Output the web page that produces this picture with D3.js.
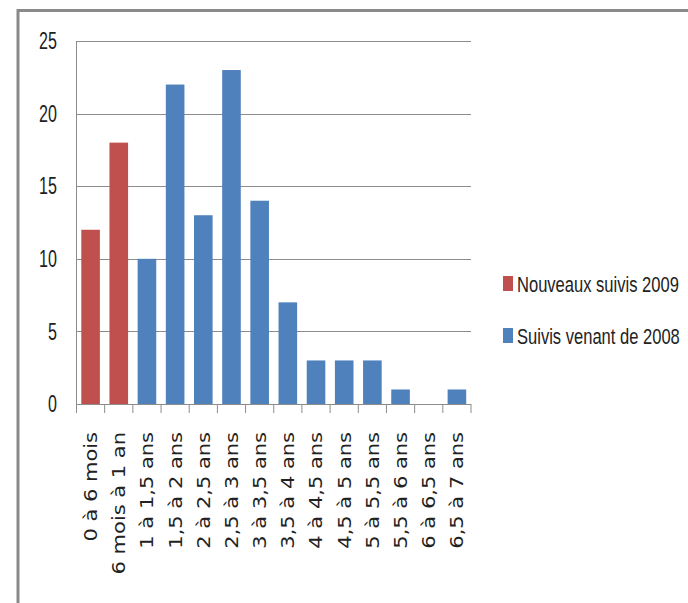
<!DOCTYPE html>
<html>
<head>
<meta charset="utf-8">
<script src="https://cdn.jsdelivr.net/npm/d3@7"></script>
<style>
  html, body { margin: 0; padding: 0; background: #fff; }
  svg { display: block; }
</style>
</head>
<body>
<svg id="chart" width="688" height="603"></svg>
<script>
// Age groups of children followed, and the number in each group
const categories = ["0 à 6 mois", "6 mois à 1 an", "1 à 1,5 ans", "1,5 à 2 ans", "2 à 2,5 ans",
  "2,5 à 3 ans", "3 à 3,5 ans", "3,5 à 4 ans", "4 à 4,5 ans", "4,5 à 5 ans",
  "5 à 5,5 ans", "5,5 à 6 ans", "6 à 6,5 ans", "6,5 à 7 ans"];
const nouveaux2009 = [12, 18, null, null, null, null, null, null, null, null, null, null, null, null];
const venant2008   = [null, null, 10, 22, 13, 23, 14, 7, 3, 3, 3, 1, 0, 1];
const yTicks = [0, 5, 10, 15, 20, 25];
const seriesNames = ["Nouveaux suivis 2009", "Suivis venant de 2008"];
const seriesColors = ["#C0504D", "#4F81BD"];

const svg = d3.select("#chart");
const plot = { left: 76.5, right: 471, top: 41, bottom: 404 };

// outer frame (top and left edges)
svg.append("path")
  .attr("d", `M18,603 V10.5 H688`)
  .attr("fill", "none").attr("stroke", "#8a8a8a").attr("stroke-width", 3);

const x = d3.scaleBand().domain(categories)
  .range([plot.left, plot.right]).paddingInner(0.34).paddingOuter(0.17);
const y = d3.scaleLinear().domain([0, 25]).range([plot.bottom, plot.top]);

// horizontal gridlines
svg.append("g").selectAll("line").data(yTicks.filter(d => d > 0)).join("line")
  .attr("x1", plot.left).attr("x2", plot.right)
  .attr("y1", d => Math.round(y(d)) + 0.5).attr("y2", d => Math.round(y(d)) + 0.5)
  .attr("stroke", "#8c8c8c").attr("stroke-width", 1);

// bars for both series, sharing one slot per age group
const series = [nouveaux2009, venant2008];
series.forEach((vals, si) => {
  svg.append("g").selectAll("rect")
    .data(categories.map((c, i) => ({ c, v: vals[i] })).filter(d => d.v != null && d.v > 0))
    .join("rect")
    .attr("x", d => x(d.c))
    .attr("width", x.bandwidth())
    .attr("y", d => y(d.v))
    .attr("height", d => y(0) - y(d.v))
    .attr("fill", seriesColors[si]);
});

// y axis line
svg.append("line")
  .attr("x1", plot.left).attr("x2", plot.left)
  .attr("y1", plot.top).attr("y2", plot.bottom)
  .attr("stroke", "#8c8c8c");

// x axis line and category ticks
const step = x.step();
svg.append("line")
  .attr("x1", plot.left).attr("x2", plot.right)
  .attr("y1", plot.bottom + 0.5).attr("y2", plot.bottom + 0.5)
  .attr("stroke", "#8c8c8c");
svg.append("g").selectAll("line").data(d3.range(categories.length + 1)).join("line")
  .attr("x1", i => plot.left + i * step).attr("x2", i => plot.left + i * step)
  .attr("y1", plot.bottom).attr("y2", plot.bottom + 9)
  .attr("stroke", "#8c8c8c");

// y tick labels
svg.append("g").selectAll("text").data(yTicks).join("text")
  .attr("transform", d => `translate(57,${y(d)}) scale(0.7,1)`)
  .attr("text-anchor", "end")
  .attr("dy", "0.36em")
  .attr("font-family", "Liberation Sans, Arial, sans-serif")
  .attr("font-size", 23)
  .attr("fill", "#222")
  .text(d => d);

// rotated category labels
svg.append("g").selectAll("text").data(categories).join("text")
  .attr("transform", d => `translate(${x(d) + x.bandwidth() / 2},432) scale(0.85,1) rotate(-90)`)
  .attr("text-anchor", "end")
  .attr("dy", "0.36em")
  .attr("font-family", "DejaVu Sans, Verdana, sans-serif")
  .attr("font-size", 21)
  .attr("fill", "#222")
  .text(d => d);

// legend
const legend = svg.append("g");
const legendY = [284, 336];
seriesNames.forEach((name, i) => {
  legend.append("rect")
    .attr("x", 503).attr("y", legendY[i] - 8)
    .attr("width", 10).attr("height", 15)
    .attr("fill", seriesColors[i]);
  legend.append("text")
    .attr("transform", `translate(517,${legendY[i]}) scale(0.77,1)`)
    .attr("dy", "0.36em")
    .attr("font-family", "Liberation Sans, Arial, sans-serif")
    .attr("font-size", 21.5)
    .attr("fill", "#222")
    .text(name);
});
</script>
</body>
</html>
